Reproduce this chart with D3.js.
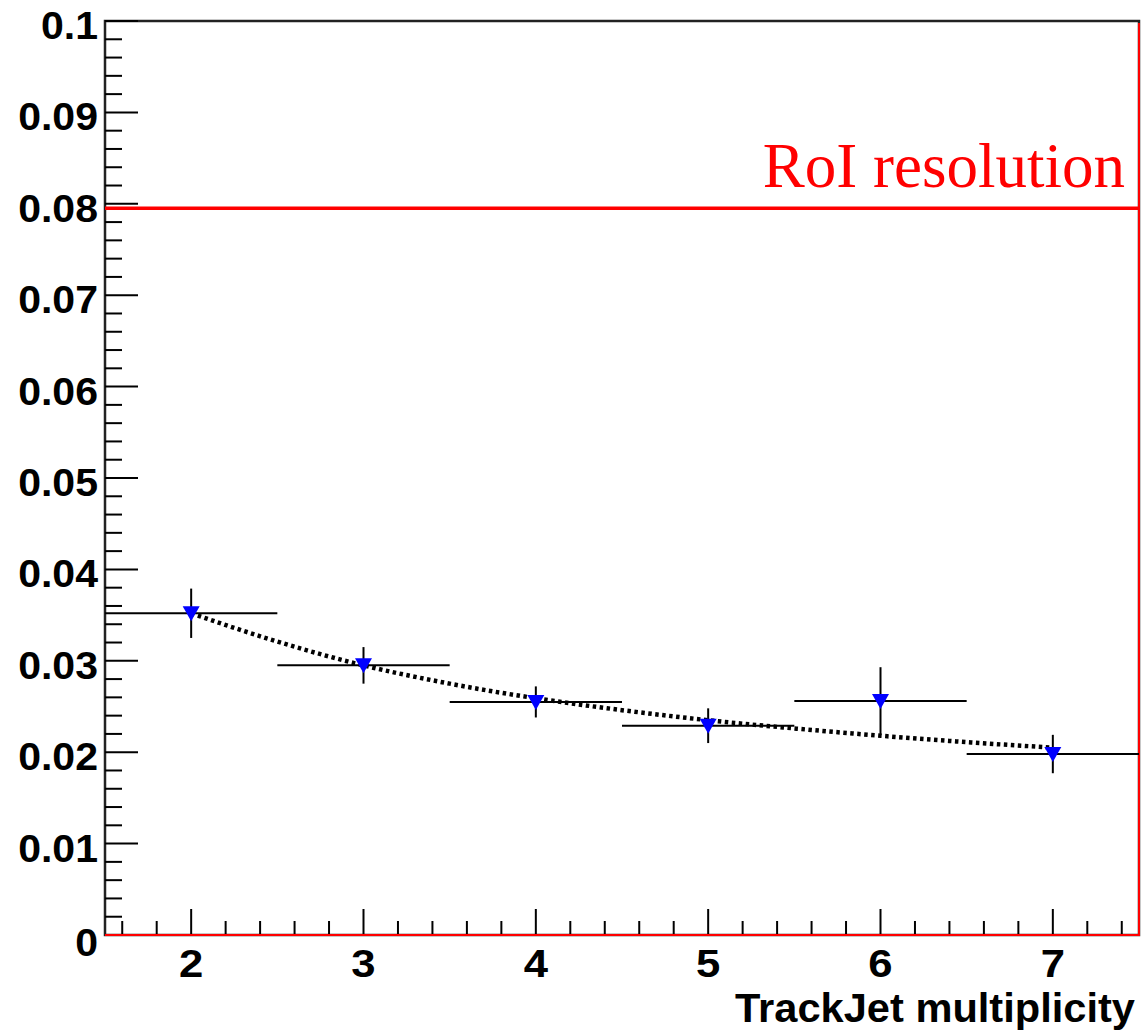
<!DOCTYPE html>
<html>
<head>
<meta charset="utf-8">
<script src="https://d3js.org/d3.v7.min.js"></script>
<style>
  body { margin: 0; background: #fff; }
  .lbl { font-family: "Liberation Sans", Arial, sans-serif; font-weight: bold; fill: #000; }
</style>
</head>
<body>
<script>
// bins (TrackJet multiplicity), measured value and error
const multiplicity = [2, 3, 4, 5, 6, 7];
const resolution   = [0.0352, 0.0295, 0.0255, 0.0229, 0.0256, 0.0198];
const resErr       = [0.0027, 0.0020, 0.0017, 0.0019, 0.0037, 0.0021];
const binHalf = 0.5;

// fit curve
const fitX = [2, 2.5, 3, 3.5, 4, 4.5, 5, 5.5, 6, 6.5, 7];
const fitY = [0.0352, 0.0321, 0.0295, 0.0275, 0.0259, 0.0246, 0.0235, 0.0226, 0.0218, 0.0211, 0.0205];

const roiLevel = 0.0795;
const yTicks = [0, 0.01, 0.02, 0.03, 0.04, 0.05, 0.06, 0.07, 0.08, 0.09, 0.1];
const yTickLabels = ["0", "0.01", "0.02", "0.03", "0.04", "0.05", "0.06", "0.07", "0.08", "0.09", "0.1"];

const width = 1143, height = 1031;
const padL = 105, padR = 1139, padT = 21, padB = 935;

const svg = d3.select("body").append("svg")
  .attr("width", width)
  .attr("height", height);

svg.append("rect").attr("width", width).attr("height", height).attr("fill", "#fff");

const x = d3.scaleLinear().domain([1.5, 7.5]).range([padL, padR]);
const y = d3.scaleLinear().domain([0, 0.1]).range([padB, padT]);

// frame
svg.append("rect")
  .attr("x", padL).attr("y", padT)
  .attr("width", padR - padL).attr("height", padB - padT)
  .attr("fill", "none").attr("stroke", "#222").attr("stroke-width", 2.5);

// y ticks
const yMinor = d3.range(0, 0.1001, 0.002);
svg.append("g").selectAll("line").data(yMinor).join("line")
  .attr("x1", padL).attr("x2", (d, i) => i % 5 === 0 ? padL + 33 : padL + 17)
  .attr("y1", d => y(d)).attr("y2", d => y(d))
  .attr("stroke", "#000").attr("stroke-width", 2);

svg.append("g").selectAll("text").data(yTicks).join("text")
  .attr("class", "lbl")
  .attr("x", padL - 7)
  .attr("y", (d, i) => y(d) + (i === 0 ? 21 : 18))
  .attr("text-anchor", "end")
  .style("font-size", "38px")
  .attr("transform", d => `translate(${padL - 7},0) scale(1.08,1) translate(${-(padL - 7)},0)`)
  .text((d, i) => yTickLabels[i]);

// x ticks
const xMinor = d3.range(1.6, 7.5, 0.2);
svg.append("g").selectAll("line").data(xMinor).join("line")
  .attr("x1", d => x(d)).attr("x2", d => x(d))
  .attr("y1", padB)
  .attr("y2", d => Math.abs(d - Math.round(d)) < 1e-6 ? padB - 26 : padB - 14)
  .attr("stroke", "#000").attr("stroke-width", 2);

svg.append("g").selectAll("text").data(multiplicity).join("text")
  .attr("class", "lbl")
  .attr("x", d => x(d))
  .attr("y", 977)
  .attr("text-anchor", "middle")
  .style("font-size", "39px")
  .attr("transform", d => `translate(${x(d)},0) scale(1.12,1) translate(${-x(d)},0)`)
  .text(d => d);

svg.append("text")
  .attr("class", "lbl")
  .attr("x", 1135).attr("y", 1022)
  .attr("text-anchor", "end")
  .style("font-size", "40px")
  .attr("textLength", 400)
  .attr("lengthAdjust", "spacingAndGlyphs")
  .text("TrackJet multiplicity");

// red lines on bottom and right edges
svg.append("path")
  .attr("d", `M${padL},${padB} H${padR} V${padT + 2}`)
  .attr("fill", "none").attr("stroke", "#f00").attr("stroke-width", 2);

// RoI resolution line
svg.append("line")
  .attr("x1", padL).attr("x2", padR)
  .attr("y1", y(roiLevel)).attr("y2", y(roiLevel))
  .attr("stroke", "#f00").attr("stroke-width", 3.5);

svg.append("text")
  .attr("x", 1125).attr("y", 187)
  .attr("text-anchor", "end")
  .style("font-family", "'Liberation Serif', 'Times New Roman', serif")
  .style("font-size", "63px")
  .attr("fill", "#f00")
  .text("RoI resolution");

// error bars
const pts = multiplicity.map((m, i) => ({ m, v: resolution[i], e: resErr[i] }));
const eg = svg.append("g").attr("stroke", "#000").attr("stroke-width", 2);
eg.selectAll(".h").data(pts).join("line").attr("class", "h")
  .attr("x1", d => x(d.m - binHalf)).attr("x2", d => x(d.m + binHalf))
  .attr("y1", d => y(d.v)).attr("y2", d => y(d.v));
eg.selectAll(".v").data(pts).join("line").attr("class", "v")
  .attr("x1", d => x(d.m)).attr("x2", d => x(d.m))
  .attr("y1", d => y(d.v - d.e)).attr("y2", d => y(d.v + d.e));

// fit curve
const line = d3.line().x(d => x(d[0])).y(d => y(d[1])).curve(d3.curveMonotoneX);
svg.append("path")
  .datum(fitX.map((v, i) => [v, fitY[i]]))
  .attr("d", line)
  .attr("fill", "none").attr("stroke", "#000")
  .attr("stroke-width", 4.5).attr("stroke-dasharray", "3.5,3.5");

// markers
svg.append("g").selectAll("path").data(pts).join("path")
  .attr("transform", d => `translate(${x(d.m)},${y(d.v)})`)
  .attr("d", "M-8.5,-7L8.5,-7L0,8Z")
  .attr("fill", "#00f");
</script>
</body>
</html>
